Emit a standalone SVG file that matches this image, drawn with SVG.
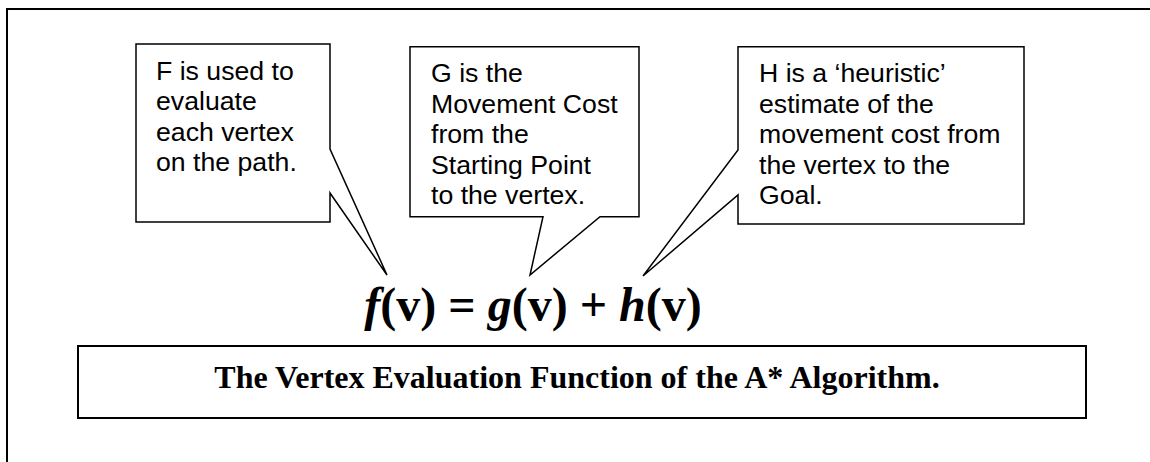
<svg xmlns="http://www.w3.org/2000/svg" width="1150" height="462" viewBox="0 0 1150 462">
<style>
.frame{fill:none;stroke:#000;stroke-width:2}
.callout{fill:#fff;stroke:#000;stroke-width:1.5;stroke-linejoin:miter}
.note{font-family:"Liberation Sans",Arial,sans-serif;font-size:26.67px;fill:#000}
.formula{font-family:"Liberation Serif","Times New Roman",serif;font-size:48px;font-weight:bold;fill:#000}
.caption{font-family:"Liberation Serif","Times New Roman",serif;font-size:32px;font-weight:bold;fill:#000}
</style>
<rect width="1150" height="462" fill="#fff"/>
<path class="frame" d="M7,462 V9 H1150"/>
<g id="callout-f">
<path class="callout" d="M136,44 H330 V149 L387,275 L330,193 V222 H136 Z"/>
<text class="note" x="156" y="79.5"><tspan x="156">F is used to</tspan><tspan x="156" dy="30.5">evaluate</tspan><tspan x="156" dy="30.5">each vertex</tspan><tspan x="156" dy="30.5">on the path.</tspan></text>
</g>
<g id="callout-g">
<path class="callout" d="M410,46.7 H639 V216.7 H600 L530,275 L543,216.7 H410 Z"/>
<text class="note" x="431" y="82"><tspan x="431">G is the</tspan><tspan x="431" dy="30.5">Movement Cost</tspan><tspan x="431" dy="30.5">from the</tspan><tspan x="431" dy="30.5">Starting Point</tspan><tspan x="431" dy="30.5">to the vertex.</tspan></text>
</g>
<g id="callout-h">
<path class="callout" d="M738,46.7 H1024 V224 H738 V195 L643,276 L738,150 Z"/>
<text class="note" x="759" y="82"><tspan x="759">H is a ‘heuristic’</tspan><tspan x="759" dy="30.5">estimate of the</tspan><tspan x="759" dy="30.5">movement cost from</tspan><tspan x="759" dy="30.5">the vertex to the</tspan><tspan x="759" dy="30.5">Goal.</tspan></text>
</g>
<g id="formula">
<text class="formula" x="533" y="321" text-anchor="middle"><tspan font-style="italic">f</tspan>(v) = <tspan font-style="italic">g</tspan>(v) + <tspan font-style="italic">h</tspan>(v)</text>
</g>
<g id="caption">
<rect class="frame" x="78" y="346" width="1008" height="72"/>
<text class="caption" x="577" y="388" text-anchor="middle">The Vertex Evaluation Function of the A* Algorithm.</text>
</g>
<g id="connectors"></g>
</svg>
